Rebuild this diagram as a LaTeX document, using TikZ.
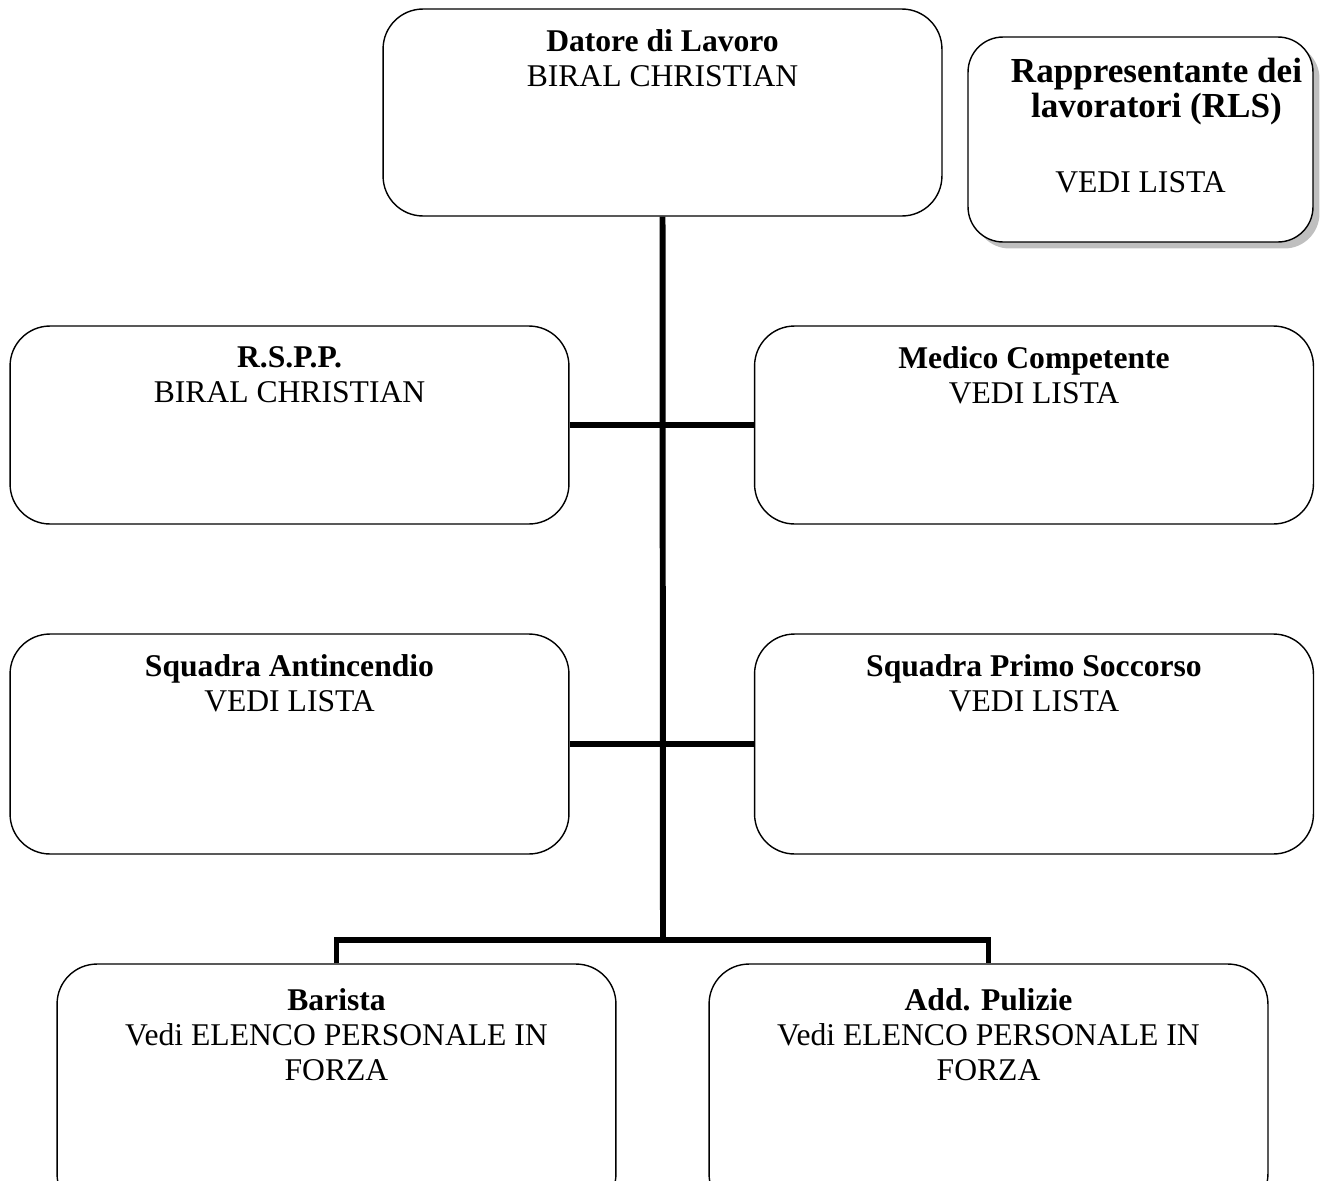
\documentclass[tikz,border=0pt]{standalone}
\usepackage{fontspec}
\setmainfont{Liberation Serif}
\usepackage{tikz}
\usetikzlibrary{shadows}
\usetikzlibrary{positioning}
\tikzstyle{box} = [draw, rectangle, rounded corners=0.8cm, line width=0.8pt,
    fill=white, minimum width=11.18cm, inner sep=0pt]
\tikzstyle{txt} = [anchor=north, align=center, inner sep=0pt,
    font=\fontsize{18}{19.9}\selectfont]

\begin{document}
\begin{tikzpicture}[x=0.02cm,y=-0.02cm]

\tikzset{trunk/.style={line width=3.4pt, line join=miter}}
\def\gap{-0.42cm}

\useasboundingbox (0,0) rectangle (1322,1180);
\clip (0,0) rectangle (1322,1180);

% boxes
\node[box,minimum height=4.14cm] (datore) at (662.5,112.5) {};
\node[box,minimum width=6.9cm,minimum height=4.1cm,rounded corners=0.7cm,
    drop shadow={shadow xshift=0.13cm,shadow yshift=-0.13cm,fill=black!50}]
    (rls) at (1140.5,139.5) {};
\node[box,minimum height=3.96cm] (rspp) at (289.5,425) {};
\node[box,minimum height=3.96cm] (medico) at (1034,425) {};
\node[box,minimum height=4.4cm] (antinc) at (289.5,744) {};
\node[box,minimum height=4.4cm] (soccorso) at (1034,744) {};
\node[box,minimum height=5.0cm] (barista) at (336.5,1089) {};
\node[box,minimum height=5.0cm] (pulizie) at (988.5,1089) {};

% texts
\node[txt,yshift=\gap] (datoreT) at (datore.north)
    {\textbf{Datore di Lavoro}\\BIRAL CHRISTIAN};
\node[txt,yshift=\gap] (rlsT) at (rls.north)
    {\fontsize{20}{19.9}\selectfont\hspace*{0.64cm}\textbf{Rappresentante dei}\\
     \fontsize{20}{19.9}\selectfont\hspace*{0.64cm}\textbf{lavoratori (RLS)}\\[23pt]
     \fontsize{18}{19.9}\selectfont VEDI LISTA};
\node[txt,yshift=\gap] (rsppT) at (rspp.north)
    {\textbf{R.S.P.P.}\\BIRAL CHRISTIAN};
\node[txt,yshift=\gap] (medicoT) at (medico.north)
    {\textbf{Medico Competente}\\VEDI LISTA};
\node[txt,yshift=\gap] (antincT) at (antinc.north)
    {\textbf{Squadra Antincendio}\\VEDI LISTA};
\node[txt,yshift=\gap] (soccorsoT) at (soccorso.north)
    {\textbf{Squadra Primo Soccorso}\\VEDI LISTA};
\node[txt,yshift=-0.5cm] (baristaT) at (barista.north)
    {\textbf{Barista}\\Vedi ELENCO PERSONALE IN\\FORZA};
\node[txt,yshift=-0.5cm] (pulizieT) at (pulizie.north)
    {\textbf{Add. Pulizie}\\Vedi ELENCO PERSONALE IN\\FORZA};

% connectors
\coordinate (hub) at (663,940);
\draw[trunk] (datore.south) -- (hub);
\draw[trunk] (rspp.east) -- (medico.west);
\draw[trunk] (antinc.east) -- (soccorso.west);
\draw[trunk] (barista.north) |- (hub) -| (pulizie.north);

\end{tikzpicture}
\end{document}
